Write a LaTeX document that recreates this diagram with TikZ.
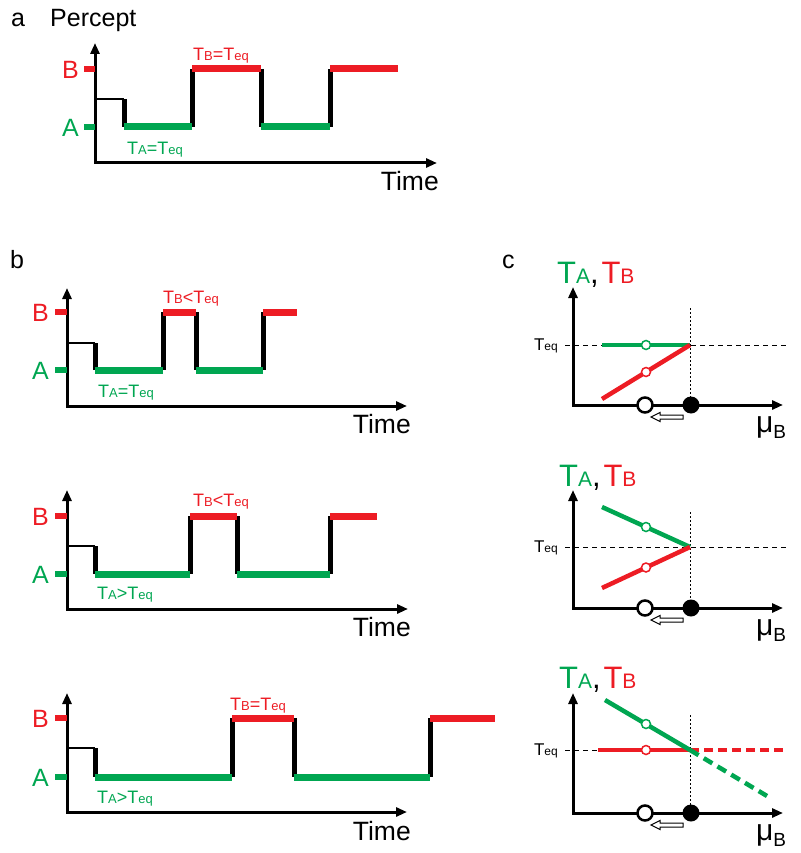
\documentclass[tikz,border=0pt]{standalone}
\usepackage{fontspec}
\setmainfont{Liberation Sans}
\usetikzlibrary{arrows.meta}
\definecolor{myg}{RGB}{0,166,81}
\definecolor{myr}{RGB}{237,28,36}
\newcommand\fs[2]{{\fontsize{#1}{#1}\selectfont #2}}
\newcommand\lblT[2]{\fs{18}{T\fs{13}{#1}#2T\fs{13}{eq}}}
\newcommand\ttl{{\color{myg}\fs{31}{T}\fs{21}{A}}\fs{31}{,} {\color{myr}\fs{31}{T}\fs{21}{B}}}
\newcommand\teq{\fs{17}{T\fs{12}{eq}}}
\newcommand\mub{\fs{30}{μ}\raisebox{-6pt}{\fs{19}{B}}}
\begin{document}
\begin{tikzpicture}[x=1pt,y=-1pt,
  axis/.style={line width=3pt,{Triangle[length=11pt,width=9pt]}-{Triangle[length=11pt,width=9pt]}},
  tickm/.style={line width=6pt},
  gbar/.style={line width=7pt,draw=myg},
  rbar/.style={line width=7pt,draw=myr},
  trans/.style={line width=5pt,black},
  thinl/.style={line width=1.5pt},
  big/.style={inner sep=0pt,font=\fontsize{25}{25}\selectfont},
  plab/.style={inner sep=0pt,anchor=base west,font=\fontsize{25}{25}\selectfont},
  tim/.style={inner sep=0pt,anchor=base east,font=\fontsize{26.5}{26.5}\selectfont},
  lbl/.style={inner sep=0pt,anchor=base west},
  eqline/.style={line width=1pt,dash pattern=on 5pt off 4pt},
  dotl/.style={line width=1pt,dash pattern=on 2pt off 2pt},
  gline/.style={line width=4.5pt,draw=myg},
  rline/.style={line width=4.5pt,draw=myr},
  gdot/.style={circle,draw=myg,fill=white,line width=1.5pt,minimum size=9pt,inner sep=0pt},
  rdot/.style={circle,draw=myr,fill=white,line width=1.5pt,minimum size=9pt,inner sep=0pt},
  odot/.style={circle,draw=black,fill=white,line width=2.5pt,minimum size=15pt,inner sep=0pt},
  fdot/.style={circle,fill=black,minimum size=17pt,inner sep=0pt},
  harrow/.style={line width=1pt,fill=white,draw=black}
]
\useasboundingbox (0,0) rectangle (800,853);

% ---------------- panel a ----------------
\node[plab] (la) at (11,27) {a};
\node[plab] (perc) at (50,27) {Percept};
\draw[axis] (95,43) -- (95,163) -- (437,163);
\draw[tickm,myr] (84,69) -- (95,69);
\draw[tickm,myg] (84,127) -- (95,127);
\node[big,anchor=east,text=myr] (aB) at (79,70) {B};
\node[big,anchor=east,text=myg] (aA) at (79,128) {A};
\draw[thinl] (95,99) -- (124,99);
\draw[trans] (124,99)--(124,127) (192,127)--(192,69) (261,69)--(261,127) (330,127)--(330,69);
\draw[gbar] (124,127)--(192,127) (261,127)--(330,127);
\draw[rbar] (192,69)--(261,69) (330,69)--(398,69);
\node[lbl,text=myr] (aTB) at (193,61) {\lblT{B}{=}};
\node[lbl,text=myg] (aTA) at (127,155) {\lblT{A}{=}};
\node[tim] (aTime) at (439,190) {Time};

% ---------------- panel b (top) ----------------
\node[plab] (lb) at (10,268) {b};
\draw[axis] (67,288) -- (67,406) -- (407,406);
\draw[tickm,myr] (55,312) -- (67,312);
\draw[tickm,myg] (55,370) -- (67,370);
\node[big,anchor=east,text=myr] (b1B) at (49,313) {B};
\node[big,anchor=east,text=myg] (b1A) at (49,371) {A};
\draw[thinl] (67,343) -- (95,343);
\draw[trans] (95,343)--(95,370) (163,370)--(163,312) (196,312)--(196,370) (263,370)--(263,312);
\draw[gbar] (95,370)--(163,370) (196,370)--(263,370);
\draw[rbar] (163,312)--(196,312) (263,312)--(297,312);
\node[lbl,text=myr] (b1TB) at (163,303) {\lblT{B}{<}};
\node[lbl,text=myg] (b1TA) at (98,397) {\lblT{A}{=}};
\node[tim] (b1Time) at (411,433) {Time};

% ---------------- panel b (middle) ----------------
\draw[axis] (67,490) -- (67,609) -- (408,609);
\draw[tickm,myr] (55,516) -- (67,516);
\draw[tickm,myg] (55,574) -- (67,574);
\node[big,anchor=east,text=myr] (b2B) at (49,517) {B};
\node[big,anchor=east,text=myg] (b2A) at (49,575) {A};
\draw[thinl] (67,546) -- (95,546);
\draw[trans] (95,546)--(95,574) (190,574)--(190,516) (237,516)--(237,574) (330,574)--(330,516);
\draw[gbar] (95,574)--(190,574) (237,574)--(330,574);
\draw[rbar] (190,516)--(237,516) (330,516)--(377,516);
\node[lbl,text=myr] (b2TB) at (193,506) {\lblT{B}{<}};
\node[lbl,text=myg] (b2TA) at (97,599) {\lblT{A}{>}};
\node[tim] (b2Time) at (411,636) {Time};

% ---------------- panel b (bottom) ----------------
\draw[axis] (67,693) -- (67,812) -- (407,812);
\draw[tickm,myr] (55,718) -- (67,718);
\draw[tickm,myg] (55,777) -- (67,777);
\node[big,anchor=east,text=myr] (b3B) at (49,719) {B};
\node[big,anchor=east,text=myg] (b3A) at (49,778) {A};
\draw[thinl] (67,748) -- (95,748);
\draw[trans] (95,748)--(95,777) (232,777)--(232,718) (294,718)--(294,777) (430,777)--(430,718);
\draw[gbar] (95,777)--(232,777) (294,777)--(430,777);
\draw[rbar] (232,718)--(294,718) (430,718)--(495,718);
\node[lbl,text=myr] (b3TB) at (230,710) {\lblT{B}{=}};
\node[lbl,text=myg] (b3TA) at (97,803) {\lblT{A}{>}};
\node[tim] (b3Time) at (411,840) {Time};

% ---------------- panel c (top) ----------------
\node[plab] (lc) at (502,268) {c};
\node[lbl] (c1t) at (557,283) {\ttl};
\draw[eqline] (565,345) -- (787,345);
\draw[dotl] (690,308) -- (690,405);
\draw[axis] (573,287) -- (573,405) -- (783,405);
\node[anchor=east,inner sep=0pt] (c1eq) at (558,346) {\teq};
\draw[gline] (602,345) -- (690,345);
\draw[rline] (602,399) -- (690,345);
\node[gdot] (c1g) at (646,345) {};
\node[rdot] (c1r) at (646,372) {};
\node[odot] (c1o) at (645,405) {};
\node[fdot] (c1f) at (691,405) {};
\draw[harrow] (651,417) -- (660,412.5) -- (660,415) -- (683,415) -- (683,419) -- (660,419) -- (660,421.5) -- cycle;
\node[lbl] (c1mu) at (756,432) {\mub};

% ---------------- panel c (middle) ----------------
\node[lbl] (c2t) at (559,486) {\ttl};
\draw[eqline] (565,547) -- (787,547);
\draw[dotl] (690,512) -- (690,608);
\draw[axis] (573,490) -- (573,608) -- (783,608);
\node[anchor=east,inner sep=0pt] (c2eq) at (558,548) {\teq};
\draw[gline] (602,507) -- (690,547);
\draw[rline] (602,588) -- (690,547);
\node[gdot] (c2g) at (646,527) {};
\node[rdot] (c2r) at (646,567.5) {};
\node[odot] (c2o) at (645,608) {};
\node[fdot] (c2f) at (691,608) {};
\draw[harrow] (651,620) -- (660,615.5) -- (660,618) -- (683,618) -- (683,622) -- (660,622) -- (660,624.5) -- cycle;
\node[lbl] (c2mu) at (756,635) {\mub};

% ---------------- panel c (bottom) ----------------
\node[lbl] (c3t) at (559,688) {\ttl};
\draw[eqline] (565,750) -- (598,750);
\draw[dotl] (690,715) -- (690,813);
\draw[axis] (573,693) -- (573,813) -- (783,813);
\node[anchor=east,inner sep=0pt] (c3eq) at (558,751) {\teq};
\draw[rline] (598,750) -- (690,750);
\draw[rline,dash pattern=on 9pt off 5pt] (690,750) -- (785,750);
\draw[gline] (605,700) -- (690,750);
\draw[gline,dash pattern=on 10pt off 6pt] (690,750) -- (767,796);
\node[gdot] (c3g) at (646,724) {};
\node[rdot] (c3r) at (646,750) {};
\node[odot] (c3o) at (645,813) {};
\node[fdot] (c3f) at (691,813) {};
\draw[harrow] (651,825) -- (660,820.5) -- (660,823) -- (683,823) -- (683,827) -- (660,827) -- (660,829.5) -- cycle;
\node[lbl] (c3mu) at (756,840) {\mub};
\end{tikzpicture}
\end{document}
